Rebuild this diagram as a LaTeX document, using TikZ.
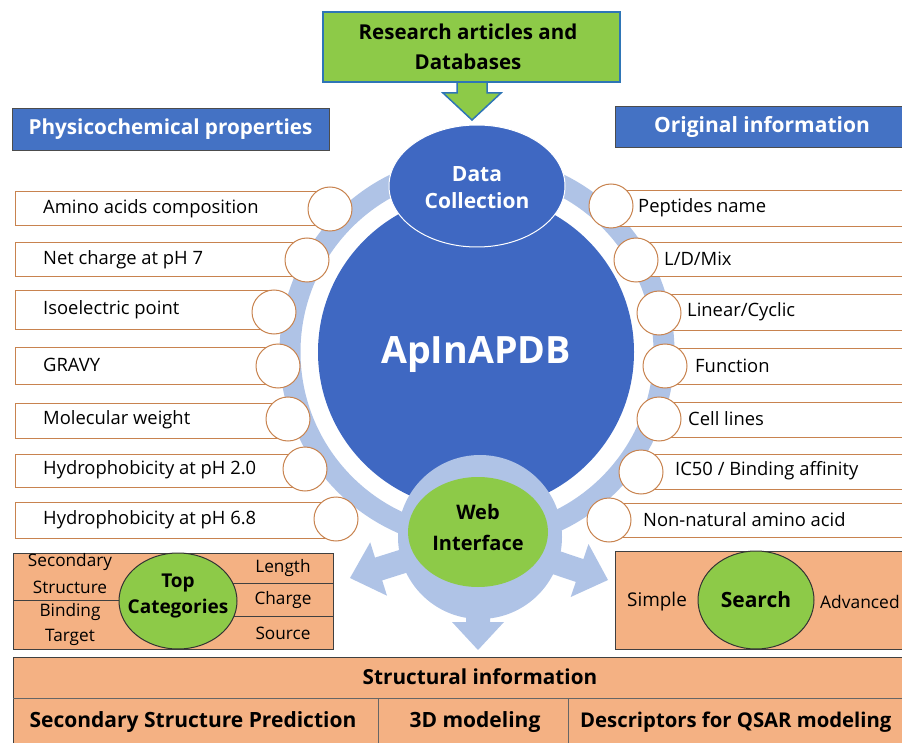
\documentclass[tikz,border=0pt]{standalone}
\usepackage{fontspec}
\setmainfont{Open Sans}
\usetikzlibrary{shapes.geometric}
\definecolor{hdrblue}{HTML}{4472C4}
\definecolor{cblue}{HTML}{3F68C2}
\definecolor{gfill}{HTML}{8DCA48}
\definecolor{salmon}{HTML}{F4B183}
\definecolor{ringc}{HTML}{AFC3E6}
\definecolor{itemc}{HTML}{C8834F}
\definecolor{arrowblue}{HTML}{2E75B6}
\newcommand\fsz[2]{\fontsize{#1}{#2}\selectfont}
\begin{document}
\begin{tikzpicture}[x=1pt,y=-1pt,
  itembox/.style={draw=itemc,fill=white,line width=1pt},
  itemtxt/.style={anchor=west,font=\fsz{18.4}{21},inner sep=0pt,text=black},
  dot/.style={circle,draw=itemc,fill=white,minimum size=44pt,inner sep=0pt,line width=1pt},
  hdr/.style={draw=black!70,fill=hdrblue,text=white,font=\bfseries\fsz{20.7}{24},inner sep=0pt},
  greenell/.style={ellipse,draw=black!80,fill=gfill,inner sep=0pt,line width=1pt},
  salbox/.style={draw=black!75,fill=salmon,line width=1pt},
  lbl/.style={font=\fsz{17.2}{20},inner sep=0pt,text=black},
  blbl/.style={font=\bfseries\fsz{20.7}{24},inner sep=0pt,text=black}
]
\useasboundingbox (0,0) rectangle (902,743);
\clip (0,0) rectangle (902,743);

% ring
\draw[ringc,line width=21pt] (477,352) circle[radius=187pt];

% web interface arrows
\fill[ringc] (476.4,525.6) -- (375.0,557.6) -- (370.2,542.3) -- (350,578) -- (387.0,595.7) -- (382.2,580.4) -- (483.6,548.4) -- cycle;
\fill[ringc] (483.8,525.6) -- (583.4,559.1) -- (588.5,544.0) -- (608,580) -- (570.7,597.0) -- (575.8,581.9) -- (476.2,548.4) -- cycle;
\fill[ringc] (466,537) -- (466,622) -- (452,622) -- (478,650) -- (504,622) -- (490,622) -- (490,537) -- cycle;

% big circle
\node[circle,fill=cblue,minimum size=316pt,inner sep=0pt] (core) at (476,352) {};
\node[font=\bfseries\fsz{37.6}{44},text=white,inner sep=0pt] (coretxt) at (476,355) {ApInAPDB};

% web interface
\node[circle,fill=ringc,minimum size=164pt,inner sep=0pt] (webring) at (480,537) {};
\node[ellipse,fill=gfill,minimum width=140pt,minimum height=110pt,inner sep=0pt] (web) at (478,532) {};
\node[blbl,font=\bfseries\fsz{20}{23}] (webt1) at (478,512) {Web};
\node[blbl,font=\bfseries\fsz{20}{23}] (webt2) at (478,543) {Interface};

% data collection
\node[ellipse,fill=cblue,draw=white,line width=1pt,minimum width=176pt,minimum height=122pt,inner sep=0pt] (dc) at (477,186) {};
\node[font=\bfseries\fsz{21}{24},text=white,inner sep=0pt] (dct1) at (477,174) {Data};
\node[font=\bfseries\fsz{21}{24},text=white,inner sep=0pt] (dct2) at (477,201) {Collection};

% top source box and arrow
\draw[fill=gfill,draw=arrowblue,line width=1.5pt,line join=miter] (457,80) -- (457,93) -- (443,93) -- (472,120) -- (501,93) -- (487,93) -- (487,80);
\node[draw=arrowblue,fill=gfill,line width=2pt,minimum width=297pt,minimum height=70pt,inner sep=0pt] (src) at (471.5,47) {};
\node[blbl,font=\bfseries\fsz{20.5}{24}] (srct1) at (468,32) {Research articles and};
\node[blbl,font=\bfseries\fsz{20.5}{24}] (srct2) at (468,62) {Databases};

% header boxes
\node[hdr,minimum width=317pt,minimum height=42pt] (phys) at (170.5,129) {Physicochemical properties};
\node[hdr,minimum width=300pt,minimum height=41pt,anchor=west] (orig) at (615,126.5) {};
\node[text=white,font=\bfseries\fsz{21}{24},inner sep=0pt] (origt) at (762,126.5) {Original information};

% left items
\draw[itembox] (15,192) rectangle (330,226);
\draw[itembox] (15,243) rectangle (307,277);
\draw[itembox] (15,291) rectangle (274,329);
\draw[itembox] (15,347) rectangle (278,384);
\draw[itembox] (15,403) rectangle (288,438);
\draw[itembox] (15,454) rectangle (305,487);
\draw[itembox] (15,502) rectangle (336,538);
\node[dot] (l1) at (330,209) {};
\node[dot] (l2) at (307,260) {};
\node[dot] (l3) at (274,312) {};
\node[dot] (l4) at (278,366) {};
\node[dot] (l5) at (288,419) {};
\node[dot] (l6) at (305,469) {};
\node[dot] (l7) at (336,519) {};
\node[itemtxt] (lt1) at (43,209) {Amino acids composition};
\node[itemtxt] (lt2) at (43,260) {Net charge at pH 7};
\node[itemtxt] (lt3) at (43,310) {Isoelectric point};
\node[itemtxt] (lt4) at (43,365) {GRAVY};
\node[itemtxt] (lt5) at (43,420) {Molecular weight};
\node[itemtxt] (lt6) at (43,470) {Hydrophobicity at pH 2.0};
\node[itemtxt] (lt7) at (43,520) {Hydrophobicity at pH 6.8};

% right items
\draw[itembox] (611,191) rectangle (920,227);
\draw[itembox] (636,243) rectangle (920,277);
\draw[itembox] (659,295) rectangle (920,330);
\draw[itembox] (665,348) rectangle (920,384);
\draw[itembox] (659,402) rectangle (920,437);
\draw[itembox] (641,454) rectangle (920,489);
\draw[itembox] (609,503) rectangle (920,537);
\node[dot] (r1) at (611,206) {};
\node[dot] (r2) at (636,260) {};
\node[dot] (r3) at (659,313) {};
\node[dot] (r4) at (665,366) {};
\node[dot] (r5) at (659,419) {};
\node[dot] (r6) at (641,472) {};
\node[dot] (r7) at (609,520) {};
\node[itemtxt] (rt1) at (638,208) {Peptides name};
\node[itemtxt] (rt2) at (664,259) {L/D/Mix};
\node[itemtxt] (rt3) at (687,312) {Linear/Cyclic};
\node[itemtxt] (rt4) at (695,366) {Function};
\node[itemtxt] (rt5) at (688,419) {Cell lines};
\node[itemtxt] (rt6) at (675,471) {IC50 / Binding affinity};
\node[itemtxt] (rt7) at (643,520) {Non-natural amino acid};

% top categories
\draw[salbox] (13,553) rectangle (333,649);
\draw[black!75,line width=1pt] (13,600) -- (125,600);
\draw[black!75,line width=1pt] (228,583) -- (333,583);
\draw[black!75,line width=1pt] (228,616) -- (333,616);
\node[greenell,minimum width=118pt,minimum height=96pt] (topc) at (178,601) {};
\node[blbl,font=\bfseries\fsz{19}{22}] (topt1) at (178,583) {Top};
\node[blbl,font=\bfseries\fsz{19}{22}] (topt2) at (178,609) {Categories};
\node[lbl] (c1) at (70,562) {Secondary};
\node[lbl] (c2) at (70,587) {Structure};
\node[lbl] (c3) at (70,612) {Binding};
\node[lbl] (c4) at (70,637) {Target};
\node[lbl] (c5) at (283,568) {Length};
\node[lbl] (c6) at (283,600) {Charge};
\node[lbl] (c7) at (283,633) {Source};

% search
\draw[salbox] (615,551) rectangle (920,649);
\node[greenell,minimum width=116pt,minimum height=98pt] (search) at (756,600) {};
\node[blbl,font=\bfseries\fsz{21}{24}] (searcht) at (756,600) {Search};
\node[lbl,font=\fsz{18.9}{22}] (simple) at (657,602) {Simple};
\node[lbl,font=\fsz{17.4}{20},anchor=west] (adv) at (820,602) {Advanced};

% structural information
\draw[salbox] (13,657) rectangle (920,760);
\draw[black!60,line width=1pt] (13,698) -- (920,698);
\draw[black!60,line width=1pt] (378,698) -- (378,760);
\draw[black!60,line width=1pt] (568,698) -- (568,760);
\node[blbl] (sit) at (480,677) {Structural information};
\node[blbl,font=\bfseries\fsz{21}{24}] (s1) at (193,722) {Secondary Structure Prediction};
\node[blbl,font=\bfseries\fsz{21}{24}] (s2) at (475,722) {3D modeling};
\node[blbl,font=\bfseries\fsz{20.3}{24},anchor=west] (s3) at (580,722) {Descriptors for QSAR modeling};
\end{tikzpicture}
\end{document}
